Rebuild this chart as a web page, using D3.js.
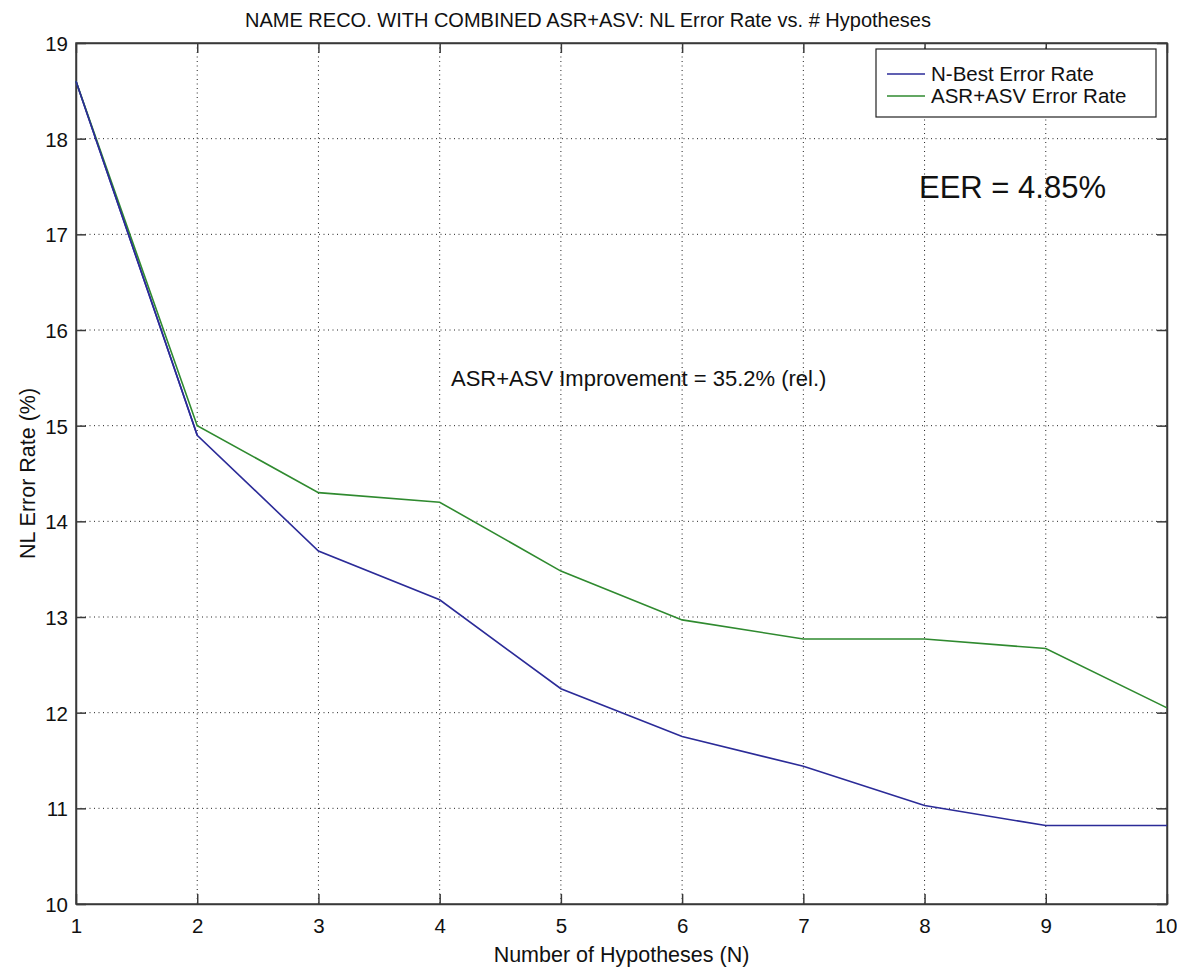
<!DOCTYPE html>
<html>
<head>
<meta charset="utf-8">
<script src="https://cdn.jsdelivr.net/npm/d3@7"></script>
<style>
  body { margin: 0; background: #fff; }
  text { font-family: "Liberation Sans", Arial, sans-serif; fill: #111; }
</style>
</head>
<body>
<div id="main"></div>
<script>

//=============== DATA ===================
var hypotheses = [1, 2, 3, 4, 5, 6, 7, 8, 9, 10];
var nbestRate  = [18.6, 14.9, 13.69, 13.18, 12.25, 11.75, 11.44, 11.03, 10.82, 10.82];
var asrAsvRate = [18.6, 15.0, 14.3, 14.2, 13.48, 12.97, 12.77, 12.77, 12.67, 12.05];
var seriesNames = ["N-Best Error Rate", "ASR+ASV Error Rate"];
var xTicks = [1, 2, 3, 4, 5, 6, 7, 8, 9, 10];
var yTicks = [10, 11, 12, 13, 14, 15, 16, 17, 18, 19];

var titleText = "NAME RECO. WITH COMBINED ASR+ASV: NL Error Rate vs. # Hypotheses";
var xLabel = "Number of Hypotheses (N)";
var yLabel = "NL Error Rate (%)";
var noteImprove = "ASR+ASV Improvement = 35.2% (rel.)";
var noteEER = "EER = 4.85%";

//=============== SETUP ===================
var W = 1177, H = 968;
var margin = {top: 43, right: 10, bottom: 64, left: 76},
    width = W - margin.left - margin.right,
    height = H - margin.top - margin.bottom;

var colors = ["#2b2b98", "#2f8a2f"];

var svg = d3.select("#main").append("svg")
    .attr("width", W)
    .attr("height", H);

var g = svg.append("g")
    .attr("transform", "translate(" + margin.left + "," + margin.top + ")");

var x = d3.scaleLinear().domain([1, 10]).range([0, width]);
var y = d3.scaleLinear().domain([10, 19]).range([height, 0]);

// grid
g.append("g").selectAll("line.vg")
  .data(xTicks.slice(1, -1))
  .enter().append("line")
  .attr("x1", function(d){ return x(d); })
  .attr("x2", function(d){ return x(d); })
  .attr("y1", 0).attr("y2", height)
  .attr("stroke", "#222").attr("stroke-width", 1)
  .attr("stroke-dasharray", "1,3.5");

g.append("g").selectAll("line.hg")
  .data(yTicks.slice(1, -1))
  .enter().append("line")
  .attr("y1", function(d){ return y(d); })
  .attr("y2", function(d){ return y(d); })
  .attr("x1", 0).attr("x2", width)
  .attr("stroke", "#222").attr("stroke-width", 1)
  .attr("stroke-dasharray", "1,3.5");

// axes (ticks inward, on all four sides)
var xAxis = g.append("g")
  .attr("transform", "translate(0," + height + ")")
  .call(d3.axisBottom(x).tickValues(xTicks).tickSizeInner(-10).tickSizeOuter(0).tickFormat(d3.format("d")));
xAxis.selectAll("text")
  .attr("y", 29).attr("dy", null)
  .style("font-size", "20.5px");
// last label sits flush with the window edge
xAxis.selectAll("text")
  .filter(function(d){ return d === 10; })
  .attr("text-anchor", "end")
  .attr("x", 10);

var yAxis = g.append("g")
  .call(d3.axisLeft(y).tickValues(yTicks).tickSizeInner(-10).tickSizeOuter(0).tickFormat(d3.format("d")));
yAxis.selectAll("text")
  .attr("x", -8).attr("dy", "0.36em")
  .style("font-size", "20.5px");

g.append("g")
  .call(d3.axisTop(x).tickValues(xTicks).tickSizeInner(-10).tickSizeOuter(0).tickFormat(""));
g.append("g")
  .attr("transform", "translate(" + width + ",0)")
  .call(d3.axisRight(y).tickValues(yTicks).tickSizeInner(-10).tickSizeOuter(0).tickFormat(""));

g.selectAll(".domain, .tick line")
  .attr("stroke", "#3a3a3a")
  .attr("stroke-width", 1.5);

g.append("rect")
  .attr("width", width).attr("height", height)
  .attr("fill", "none").attr("stroke", "#3a3a3a").attr("stroke-width", 1.5);

// lines
var line = d3.line()
  .x(function(d, i){ return x(hypotheses[i]); })
  .y(function(d){ return y(d); });

[nbestRate, asrAsvRate].forEach(function(s, i){
  g.append("path")
    .datum(s)
    .attr("d", line)
    .attr("fill", "none")
    .attr("stroke", colors[i])
    .attr("stroke-width", 1.6);
});

// blue over green on the first segment, as in the original
g.append("path")
  .datum(nbestRate.slice(0, 2))
  .attr("d", line)
  .attr("fill", "none")
  .attr("stroke", colors[0])
  .attr("stroke-width", 1.6);

// titles
svg.append("text")
  .attr("x", 588).attr("y", 27)
  .attr("text-anchor", "middle")
  .style("font-size", "20px")
  .text(titleText);

svg.append("text")
  .attr("x", margin.left + width / 2).attr("y", 962)
  .attr("text-anchor", "middle")
  .style("font-size", "21.5px")
  .text(xLabel);

svg.append("text")
  .attr("transform", "translate(35," + (margin.top + height / 2) + ") rotate(-90)")
  .attr("text-anchor", "middle")
  .style("font-size", "21.5px")
  .text(yLabel);

// annotations
svg.append("text")
  .attr("x", 451).attr("y", 386)
  .style("font-size", "22px")
  .text(noteImprove);

svg.append("text")
  .attr("x", 919).attr("y", 198)
  .style("font-size", "31px")
  .text(noteEER);

// legend
var leg = svg.append("g").attr("transform", "translate(876,49)");
leg.append("rect")
  .attr("width", 280).attr("height", 68)
  .attr("fill", "#fff").attr("stroke", "#222").attr("stroke-width", 1.2);

seriesNames.forEach(function(name, i){
  var cy = 25 + i * 22;
  leg.append("line")
    .attr("x1", 11).attr("x2", 49)
    .attr("y1", cy).attr("y2", cy)
    .attr("stroke", colors[i]).attr("stroke-width", 1.6);
  leg.append("text")
    .attr("x", 55).attr("y", cy)
    .attr("dy", "0.35em")
    .style("font-size", "20.5px")
    .text(name);
});

</script>
</body>
</html>
